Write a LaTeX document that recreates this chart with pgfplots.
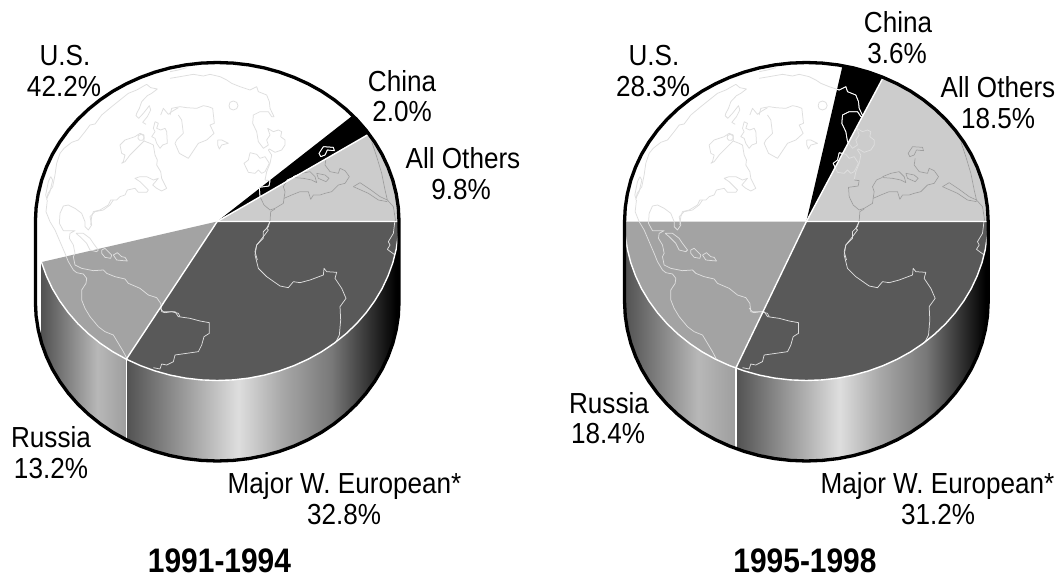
\documentclass[border=0pt]{standalone}
\usepackage{pgfplots}
\usepackage{pgfplotstable}
\usepackage{fontspec}
\setmainfont{Liberation Sans}
\pgfplotsset{compat=1.18}
\definecolor{cUS}{gray}{1}
\definecolor{cCN}{gray}{0}
\definecolor{cAO}{gray}{0.80}
\definecolor{cWE}{gray}{0.35}
\definecolor{cRU}{gray}{0.64}
\definecolor{gA}{gray}{0.32}
\definecolor{gB}{gray}{0.87}
\definecolor{gC}{gray}{0.66}
\definecolor{gG}{gray}{0.47}
\definecolor{gH}{gray}{0.22}
\definecolor{gD}{gray}{0}
\definecolor{gE}{gray}{0.72}
\definecolor{gF}{gray}{0.62}
\pgfdeclarehorizontalshading{weur}{100bp}{color(0bp)=(gA); color(25bp)=(gA); color(45.5bp)=(gB); color(53.5bp)=(gC); color(62.7bp)=(gG); color(69bp)=(gH); color(74.5bp)=(gD); color(100bp)=(gD)}
\pgfdeclarehorizontalshading{russ}{100bp}{color(0bp)=(gA); color(25bp)=(gA); color(58bp)=(gE); color(75bp)=(gF); color(100bp)=(gF)}
\pgfplotsset{pieaxis/.style 2 args={at={(0pt,0pt)},anchor=south west,scale only axis,width=1057pt,height=576pt,xmin=#1,xmax=#2,ymin=-221.5,ymax=354.5,y dir=reverse,hide axis,clip=false}}
% ---- map outlines, in crop coordinates (3x), left pie
\pgfplotstableread[header=false]{
20 405
24 385
38 365
45 330
50 295
60 265
72 250
95 232
115 225
135 200
150 180
165 177
185 150
215 125
240 105
265 85
290 75
320 58
332 68
352 72
335 85
322 92
305 110
298 130
290 145
288 152
296 160
310 145
328 122
332 135
322 155
308 172
318 178
}\mapAa
\pgfplotstableread[header=false]{
32 335
38 345
30 380
20 400
17 390
25 350
32 335
}\mapAi
\pgfplotstableread[header=false]{
345 170
355 175
350 190
362 195
375 190
380 200
382 235
368 240
360 250
350 235
345 220
335 215
345 200
340 190
345 170
}\mapAj
\pgfplotstableread[header=false]{
240 240
255 225
285 215
300 205
312 210
312 228
330 235
340 240
345 270
352 285
350 300
362 320
365 340
375 360
380 370
365 378
350 370
338 360
355 340
340 345
320 335
300 335
285 340
300 350
310 360
325 375
320 382
295 382
285 370
262 375
255 390
240 395
230 405
212 405
205 420
180 435
160 440
155 455
152 480
}\mapAk
\pgfplotstableread[header=false]{
240 240
245 265
255 270
250 290
245 295
255 290
270 270
300 240
312 228
}\mapAl
\pgfplotstableread[header=false]{
303 208
311 212
312 220
307 226
299 226
294 220
295 212
303 208
}\mapAm
\pgfplotstableread[header=false]{
362 150
370 130
385 148
395 140
415 128
}\mapAn
% lower Americas, origin (40,200)
\pgfplotstableread[header=false]{
22 0
18 35
30 65
45 90
60 125
75 160
85 185
100 210
110 218
130 222
140 235
138 250
125 270
125 300
135 325
150 350
175 380
195 395
220 405
235 430
250 455
262 478
}\mapBa
\pgfplotstableread[header=false]{
220 0
210 15
190 30
165 35
150 50
155 75
145 90
135 80
135 65
125 40
105 25
85 15
70 18
60 40
58 70
70 92
105 92
90 100
88 115
100 135
105 160
100 170
105 195
125 205
160 212
190 210
200 220
225 230
255 237
265 250
300 265
325 285
350 293
362 310
365 335
375 338
395 335
415 340
420 350
}\mapBb
\pgfplotstableread[header=false]{
108 100
130 100
150 115
160 130
175 150
170 155
150 150
140 130
120 110
108 100
}\mapBc
\pgfplotstableread[header=false]{
185 150
195 145
215 165
212 175
195 172
185 160
185 150
}\mapBd
\pgfplotstableread[header=false]{
220 165
232 158
245 170
255 172
262 183
250 182
230 180
220 165
}\mapBe
% origin (170,65)
\pgfplotstableread[header=false]{
0 40
30 35
70 28
100 33
120 28
150 35
170 45
185 55
210 65
240 75
260 65
265 80
290 90
298 110
300 130
312 155
305 155
295 140
270 140
250 150
248 175
260 200
265 230
280 250
295 240
290 225
300 210
293 190
310 200
325 195
335 200
332 215
345 225
345 240
335 255
315 262
298 252
295 255
305 270
300 295
290 320
285 345
}\mapCa
\pgfplotstableread[header=false]{
0 20
25 15
50 8
}\mapCb
\pgfplotstableread[header=false]{
25 150
35 165
40 205
20 225
15 235
28 265
55 280
85 235
110 225
132 205
120 180
133 175
128 130
115 125
100 122
80 130
50 128
30 125
5 130
0 150
}\mapCc
\pgfplotstableread[header=false]{
190 108
200 112
204 122
200 131
190 135
180 131
177 122
180 112
190 108
}\mapCd
\pgfplotstableread[header=false]{
143 225
155 225
175 235
155 240
148 252
143 240
143 225
}\mapCe
\pgfplotstableread[header=false]{
240 263
260 268
270 280
285 275
298 295
285 320
275 325
265 315
255 325
235 322
222 295
235 285
240 263
}\mapCf
% origin (250,130), Eurasia
\pgfplotstableread[header=false]{
207 70
220 50
250 52
253 62
232 60
225 75
212 80
207 70
}\mapDa
\pgfplotstableread[header=false]{
228 85
225 105
240 125
265 130
270 115
285 122
298 140
285 160
265 165
245 185
225 190
210 195
190 195
182 208
175 185
150 185
125 195
102 205
100 220
75 235
60 240
42 225
30 200
28 172
57 168
60 152
45 150
}\mapDb
\pgfplotstableread[header=false]{
102 205
105 185
100 170
112 150
130 142
}\mapDc
\pgfplotstableread[header=false]{
130 140
155 130
180 125
195 140
200 158
185 150
160 145
135 143
130 140
}\mapDd
\pgfplotstableread[header=false]{
200 130
225 135
237 145
228 155
205 145
200 130
}\mapDe
\pgfplotstableread[header=false]{
310 170
330 158
360 178
390 200
412 210
405 180
395 130
380 80
365 35
}\mapDf
\pgfplotstableread[header=false]{
412 215
385 210
355 190
310 170
}\mapDg
\pgfplotstableread[header=false]{
75 237
62 245
60 275
50 295
55 300
40 320
20 345
15 365
22 390
}\mapDh
\pgfplotstableread[header=false]{
412 210
430 230
437 275
}\mapDi
% origin (0,220), Africa and the south
\pgfplotstableread[header=false]{
810 0
805 20
790 35
790 55
770 75
765 105
775 145
800 170
840 198
865 203
880 185
900 188
930 180
970 165
972 145
980 155
1010 157
1005 175
1025 205
1038 235
1020 260
1022 300
1018 345
1003 375
}\mapEa
\pgfplotstableread[header=false]{
1185 0
1180 40
1165 65
1170 75
1162 88
1185 105
}\mapEb
\pgfplotstableread[header=false]{
480 265
490 275
525 275
535 290
570 295
600 303
628 308
628 340
612 350
605 375
595 395
525 405
520 425
500 435
485 432
480 447
460 443
}\mapEc
\newcommand{\ml}[3]{\addplot[draw=mapc,line width=0.75pt,line join=round] table[x expr=\thisrowno{0}/3+#2-217.2,y expr=\thisrowno{1}/3+#3-221.5]{#1};}
\newcommand{\drawamer}{%
\ml{\mapAa}{40}{65}\ml{\mapAi}{40}{65}\ml{\mapAj}{40}{65}\ml{\mapAk}{40}{65}\ml{\mapAl}{40}{65}\ml{\mapAm}{40}{65}\ml{\mapAn}{40}{65}%
\ml{\mapBa}{40}{200}\ml{\mapBb}{40}{200}\ml{\mapBc}{40}{200}\ml{\mapBd}{40}{200}\ml{\mapBe}{40}{200}%
\ml{\mapCa}{170}{65}\ml{\mapCb}{170}{65}\ml{\mapCc}{170}{65}\ml{\mapCd}{170}{65}\ml{\mapCe}{170}{65}\ml{\mapCf}{170}{65}%
\ml{\mapEc}{0}{220}}
\newcommand{\drawasia}{%
\ml{\mapDa}{250}{130}\ml{\mapDb}{250}{130}\ml{\mapDc}{250}{130}\ml{\mapDd}{250}{130}\ml{\mapDe}{250}{130}\ml{\mapDf}{250}{130}\ml{\mapDg}{250}{130}\ml{\mapDh}{250}{130}\ml{\mapDi}{250}{130}%
\ml{\mapEa}{0}{220}\ml{\mapEb}{0}{220}}
\newcommand{\outline}{%
\addplot[draw=black,line width=3.3pt,line join=round] coordinates {(-181.8,0)(-181.1,-13.9)(-179,-27.6)(-175.6,-41.2)(-170.8,-54.4)(-164.8,-67.2)(-157.4,-79.5)(-148.9,-91.2)(-139.3,-102.2)(-128.6,-112.4)(-116.9,-121.8)(-104.3,-130.3)(-90.9,-137.7)(-76.8,-144.1)(-62.2,-149.4)(-47.1,-153.6)(-31.6,-156.6)(-15.9,-158.4)(0,-159)(15.9,-158.4)(31.6,-156.6)(47.1,-153.6)(62.2,-149.4)(76.8,-144.1)(90.9,-137.7)(104.3,-130.3)(116.9,-121.8)(128.6,-112.4)(139.3,-102.2)(148.9,-91.2)(157.4,-79.5)(164.8,-67.2)(170.8,-54.4)(175.6,-41.2)(179,-27.6)(181.1,-13.9)(181.8,0)(181.8,80.5)(181.1,94.4)(179,108.1)(175.6,121.7)(170.8,134.9)(164.8,147.7)(157.4,160)(148.9,171.7)(139.3,182.7)(128.6,192.9)(116.9,202.3)(104.3,210.8)(90.9,218.2)(76.8,224.6)(62.2,229.9)(47.1,234.1)(31.6,237.1)(15.9,238.9)(0,239.5)(-15.9,238.9)(-31.6,237.1)(-47.1,234.1)(-62.2,229.9)(-76.8,224.6)(-90.9,218.2)(-104.3,210.8)(-116.9,202.3)(-128.6,192.9)(-139.3,182.7)(-148.9,171.7)(-157.4,160)(-164.8,147.7)(-170.8,134.9)(-175.6,121.7)(-179,108.1)(-181.1,94.4)(-181.8,80.5)(-181.8,0)};}
\newcommand{\lab}[3]{\node[anchor=base,inner sep=0pt] at (#1pt,#2pt) {\scalebox{0.9}[1]{\fontsize{29}{31}\selectfont #3}};}
\begin{document}
\begin{tikzpicture}
\path[use as bounding box] (0,0) rectangle (1057pt,576pt);
% ===== left pie: sides and top
\begin{axis}[pieaxis={-217.2}{839.8}]
% side, Russia
\addplot[draw=none,shade,shading=russ] coordinates {(-90.9,137.7)(-104.3,130.3)(-116.9,121.8)(-128.6,112.4)(-139.3,102.2)(-148.9,91.2)(-157.4,79.5)(-164.8,67.2)(-170.8,54.4)(-175.8,40.6)(-175.8,121.1)(-170.8,134.9)(-164.8,147.7)(-157.4,160)(-148.9,171.7)(-139.3,182.7)(-128.6,192.9)(-116.9,202.3)(-104.3,210.8)(-90.9,218.2)};
% side, Major W. European
\addplot[draw=none,shade,shading=weur] coordinates {(-90.9,137.7)(-76.8,144.1)(-62.2,149.4)(-47.1,153.6)(-31.6,156.6)(-15.9,158.4)(0,159)(15.9,158.4)(31.6,156.6)(47.1,153.6)(62.2,149.4)(76.8,144.1)(90.9,137.7)(104.3,130.3)(116.9,121.8)(128.6,112.4)(139.3,102.2)(148.9,91.2)(157.4,79.5)(164.8,67.2)(170.8,54.4)(175.6,41.2)(179,27.6)(181.1,13.9)(181.8,0)(181.8,80.5)(181.1,94.4)(179,108.1)(175.6,121.7)(170.8,134.9)(164.8,147.7)(157.4,160)(148.9,171.7)(139.3,182.7)(128.6,192.9)(116.9,202.3)(104.3,210.8)(90.9,218.2)(76.8,224.6)(62.2,229.9)(47.1,234.1)(31.6,237.1)(15.9,238.9)(0,239.5)(-15.9,238.9)(-31.6,237.1)(-47.1,234.1)(-62.2,229.9)(-76.8,224.6)(-90.9,218.2)};
\addplot[draw=white,line width=1.4pt] coordinates {(-90.9,137.7)(-90.9,218.2)};
% top: U.S.
\addplot[fill=cUS,draw=none] coordinates {(0,0)(-175.8,40.6)(-179,27.6)(-181.1,13.9)(-181.8,0)(-181.1,-13.9)(-179,-27.6)(-175.6,-41.2)(-170.8,-54.4)(-164.8,-67.2)(-157.4,-79.5)(-148.9,-91.2)(-139.3,-102.2)(-128.6,-112.4)(-116.9,-121.8)(-104.3,-130.3)(-90.9,-137.7)(-76.8,-144.1)(-62.2,-149.4)(-47.1,-153.6)(-31.6,-156.6)(-15.9,-158.4)(0,-159)(15.9,-158.4)(31.6,-156.6)(47.1,-153.6)(62.2,-149.4)(76.8,-144.1)(90.9,-137.7)(104.3,-130.3)(116.9,-121.8)(128.6,-112.4)(135.5,-106)(0,0)};
% China
\addplot[fill=cCN,draw=none] coordinates {(0,0)(135.5,-106)(139.3,-102.2)(148.9,-91.2)(151.8,-87.5)(0,0)};
% All Others
\addplot[fill=cAO,draw=none] coordinates {(0,0)(151.8,-87.5)(157.4,-79.5)(164.8,-67.2)(170.8,-54.4)(175.6,-41.2)(179,-27.6)(181.1,-13.9)(181.8,0)(0,0)};
% Russia
\addplot[fill=cRU,draw=none] coordinates {(0,0)(-90.9,137.7)(-104.3,130.3)(-116.9,121.8)(-128.6,112.4)(-139.3,102.2)(-148.9,91.2)(-157.4,79.5)(-164.8,67.2)(-170.8,54.4)(-175.8,40.6)(0,0)};
% Major W. European
\addplot[fill=cWE,draw=none] coordinates {(0,0)(181.8,0)(181.1,13.9)(179,27.6)(175.6,41.2)(170.8,54.4)(164.8,67.2)(157.4,79.5)(148.9,91.2)(139.3,102.2)(128.6,112.4)(116.9,121.8)(104.3,130.3)(90.9,137.7)(76.8,144.1)(62.2,149.4)(47.1,153.6)(31.6,156.6)(15.9,158.4)(0,159)(-15.9,158.4)(-31.6,156.6)(-47.1,153.6)(-62.2,149.4)(-76.8,144.1)(-90.9,137.7)(0,0)};
\end{axis}
% ===== right pie: sides and top
\begin{axis}[pieaxis={-806.3}{250.7}]
\addplot[draw=none,shade,shading=russ] coordinates {(-70.5,146.6)(-76.8,144.1)(-90.9,137.7)(-104.3,130.3)(-116.9,121.8)(-128.6,112.4)(-139.3,102.2)(-148.9,91.2)(-157.4,79.5)(-164.8,67.2)(-170.8,54.4)(-175.6,41.2)(-179,27.6)(-181.1,13.9)(-181.8,0)(-181.8,80.5)(-181.1,94.4)(-179,108.1)(-175.6,121.7)(-170.8,134.9)(-164.8,147.7)(-157.4,160)(-148.9,171.7)(-139.3,182.7)(-128.6,192.9)(-116.9,202.3)(-104.3,210.8)(-90.9,218.2)(-76.8,224.6)(-70.5,227.1)};
\addplot[draw=none,shade,shading=weur] coordinates {(-70.5,146.6)(-62.2,149.4)(-47.1,153.6)(-31.6,156.6)(-15.9,158.4)(0,159)(15.9,158.4)(31.6,156.6)(47.1,153.6)(62.2,149.4)(76.8,144.1)(90.9,137.7)(104.3,130.3)(116.9,121.8)(128.6,112.4)(139.3,102.2)(148.9,91.2)(157.4,79.5)(164.8,67.2)(170.8,54.4)(175.6,41.2)(179,27.6)(181.1,13.9)(181.8,0)(181.8,80.5)(181.1,94.4)(179,108.1)(175.6,121.7)(170.8,134.9)(164.8,147.7)(157.4,160)(148.9,171.7)(139.3,182.7)(128.6,192.9)(116.9,202.3)(104.3,210.8)(90.9,218.2)(76.8,224.6)(62.2,229.9)(47.1,234.1)(31.6,237.1)(15.9,238.9)(0,239.5)(-15.9,238.9)(-31.6,237.1)(-47.1,234.1)(-62.2,229.9)(-70.5,227.1)};
\addplot[draw=white,line width=1.4pt] coordinates {(-70.5,146.6)(-70.5,227.1)};
\addplot[fill=cUS,draw=none] coordinates {(0,0)(-181.8,0)(-181.1,-13.9)(-179,-27.6)(-175.6,-41.2)(-170.8,-54.4)(-164.8,-67.2)(-157.4,-79.5)(-148.9,-91.2)(-139.3,-102.2)(-128.6,-112.4)(-116.9,-121.8)(-104.3,-130.3)(-90.9,-137.7)(-76.8,-144.1)(-62.2,-149.4)(-47.1,-153.6)(-31.6,-156.6)(-15.9,-158.4)(0,-159)(15.9,-158.4)(31.6,-156.6)(36.2,-155.8)(0,0)};
\addplot[fill=cCN,draw=none] coordinates {(0,0)(36.2,-155.8)(47.1,-153.6)(62.2,-149.4)(76.8,-144.1)(0,0)};
\addplot[fill=cAO,draw=none] coordinates {(0,0)(76.8,-144.1)(90.9,-137.7)(104.3,-130.3)(116.9,-121.8)(128.6,-112.4)(139.3,-102.2)(148.9,-91.2)(157.4,-79.5)(164.8,-67.2)(170.8,-54.4)(175.6,-41.2)(179,-27.6)(181.1,-13.9)(181.8,0)(0,0)};
\addplot[fill=cRU,draw=none] coordinates {(0,0)(-70.5,146.6)(-76.8,144.1)(-90.9,137.7)(-104.3,130.3)(-116.9,121.8)(-128.6,112.4)(-139.3,102.2)(-148.9,91.2)(-157.4,79.5)(-164.8,67.2)(-170.8,54.4)(-175.6,41.2)(-179,27.6)(-181.1,13.9)(-181.8,0)(0,0)};
\addplot[fill=cWE,draw=none] coordinates {(0,0)(181.8,0)(181.1,13.9)(179,27.6)(175.6,41.2)(170.8,54.4)(164.8,67.2)(157.4,79.5)(148.9,91.2)(139.3,102.2)(128.6,112.4)(116.9,121.8)(104.3,130.3)(90.9,137.7)(76.8,144.1)(62.2,149.4)(47.1,153.6)(31.6,156.6)(15.9,158.4)(0,159)(-15.9,158.4)(-31.6,156.6)(-47.1,153.6)(-62.2,149.4)(-70.5,146.6)(0,0)};
\end{axis}
% ===== map, left pie
\colorlet{mapc}{black!13}
\begin{scope}
\clip (217.2pt,354.5pt) ellipse [x radius=181.8pt,y radius=159pt];
\begin{axis}[pieaxis={-217.2}{839.8}]\drawamer\drawasia\end{axis}
\colorlet{mapc}{black!38}
\begin{scope}
\clip (217.2pt,354.5pt)--(444.9pt,485.75pt)--(470pt,485.75pt)--(470pt,354.5pt)--cycle;
\begin{axis}[pieaxis={-217.2}{839.8}]\drawasia\end{axis}
\end{scope}
\colorlet{mapc}{white}
\begin{scope}
\clip (217.2pt,354.5pt)--(420.45pt,513.5pt)--(444.9pt,485.75pt)--cycle;
\begin{axis}[pieaxis={-217.2}{839.8}]\drawamer\drawasia\end{axis}
\end{scope}
\end{scope}
% ===== map, right pie
\colorlet{mapc}{black!13}
\begin{scope}
\clip (806.3pt,354.5pt) ellipse [x radius=181.8pt,y radius=159pt];
\begin{axis}[pieaxis={-806.3}{250.7}]\drawamer\drawasia\end{axis}
\colorlet{mapc}{black!38}
\begin{scope}
\clip (806.3pt,354.5pt)--(921.5pt,570.65pt)--(1057pt,570.65pt)--(1057pt,354.5pt)--cycle;
\begin{axis}[pieaxis={-806.3}{250.7}]\drawasia\end{axis}
\end{scope}
\colorlet{mapc}{white}
\begin{scope}
\clip (806.3pt,354.5pt)--(860.6pt,588.2pt)--(921.5pt,570.65pt)--cycle;
\begin{axis}[pieaxis={-806.3}{250.7}]\drawamer\drawasia\end{axis}
\end{scope}
\end{scope}
% ===== wedge borders and outlines
\begin{axis}[pieaxis={-217.2}{839.8}]
\addplot[draw=white,line width=1.4pt,line join=round] coordinates {(-175.8,40.6)(-170.8,54.4)(-164.8,67.2)(-157.4,79.5)(-148.9,91.2)(-139.3,102.2)(-128.6,112.4)(-116.9,121.8)(-104.3,130.3)(-90.9,137.7)(-76.8,144.1)(-62.2,149.4)(-47.1,153.6)(-31.6,156.6)(-15.9,158.4)(0,159)(15.9,158.4)(31.6,156.6)(47.1,153.6)(62.2,149.4)(76.8,144.1)(90.9,137.7)(104.3,130.3)(116.9,121.8)(128.6,112.4)(139.3,102.2)(148.9,91.2)(157.4,79.5)(164.8,67.2)(170.8,54.4)(175.6,41.2)(179,27.6)(181.1,13.9)(181.8,0)(0,0)(-90.9,137.7)};
\addplot[draw=white,line width=1.4pt] coordinates {(0,0)(151.8,-87.5)};
\outline
\end{axis}
\begin{axis}[pieaxis={-806.3}{250.7}]
\addplot[draw=white,line width=1.4pt,line join=round] coordinates {(-181.8,0)(-181.1,13.9)(-179,27.6)(-175.6,41.2)(-170.8,54.4)(-164.8,67.2)(-157.4,79.5)(-148.9,91.2)(-139.3,102.2)(-128.6,112.4)(-116.9,121.8)(-104.3,130.3)(-90.9,137.7)(-76.8,144.1)(-62.2,149.4)(-47.1,153.6)(-31.6,156.6)(-15.9,158.4)(0,159)(15.9,158.4)(31.6,156.6)(47.1,153.6)(62.2,149.4)(76.8,144.1)(90.9,137.7)(104.3,130.3)(116.9,121.8)(128.6,112.4)(139.3,102.2)(148.9,91.2)(157.4,79.5)(164.8,67.2)(170.8,54.4)(175.6,41.2)(179,27.6)(181.1,13.9)(181.8,0)(0,0)(-70.5,146.6)};
\addplot[draw=white,line width=1.4pt] coordinates {(0,0)(76.8,-144.1)};
\outline
\end{axis}
% ===== labels (y measured from the bottom)
\lab{65}{510}{U.S.}
\lab{64}{479}{42.2\%}
\lab{402}{484}{China}
\lab{402}{454}{2.0\%}
\lab{463}{407}{All Others}
\lab{461}{376}{9.8\%}
\lab{51}{129}{Russia}
\lab{51}{98}{13.2\%}
\lab{344.5}{83}{Major W. European*}
\lab{344}{52}{32.8\%}
\lab{654}{510}{U.S.}
\lab{653}{479}{28.3\%}
\lab{898}{543}{China}
\lab{897}{512}{3.6\%}
\lab{998}{478}{All Others}
\lab{998}{447}{18.5\%}
\lab{609}{163}{Russia}
\lab{608}{133}{18.4\%}
\lab{937.5}{83}{Major W. European*}
\lab{938}{52}{31.2\%}
\node[anchor=base,inner sep=0pt] at (219.5pt,4pt) {\scalebox{0.88}[1]{\fontsize{34}{40}\selectfont\bfseries 1991-1994}};
\node[anchor=base,inner sep=0pt] at (805pt,4pt) {\scalebox{0.88}[1]{\fontsize{34}{40}\selectfont\bfseries 1995-1998}};
\end{tikzpicture}
\end{document}
